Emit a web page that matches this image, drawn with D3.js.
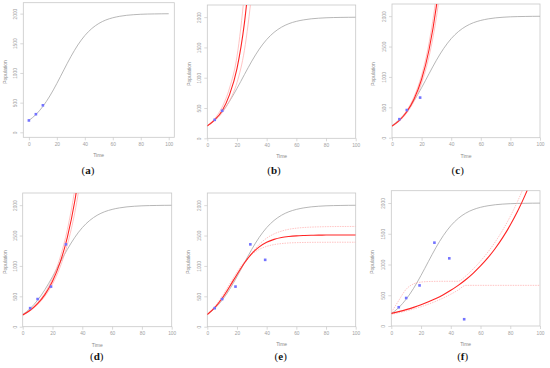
<!DOCTYPE html>
<html>
<head>
<meta charset="utf-8">
<script src="https://cdn.jsdelivr.net/npm/d3@7"></script>
<style>
  body { margin: 0; background: #fff; }
  svg { display: block; }
</style>
</head>
<body>
<svg id="chart"></svg>
<script>
(function() {

const W = 550, H = 368;

// time grid used for the model curves (step 5)
const timeGrid = d3.range(0, 101, 5);

// grey reference logistic curve
const grayCurve = [200, 299, 436, 613, 823, 1051, 1274, 1471, 1630, 1749, 1834,
  1892, 1930, 1955, 1972, 1982, 1989, 1993, 1995, 1997, 1998];

// observed points (blue)
const obsTime = [0, 5, 10, 19, 29, 39, 49];
const obsPop  = [200, 305, 455, 660, 1355, 1100, 110];

// fitted curves (red) and their bands (pink)
const fitB    = [205, 305, 455, 720, 1150, 1900, 3100];
const bandBhi = [205, 325, 515, 830, 1350, 2400, 4000];
const bandBlo = [200, 290, 420, 620, 920, 1450, 2400, 3600];

const fitC    = [190, 285, 428, 642, 962, 1443, 2164, 3245];
const bandClo = [185, 274, 408, 605, 898, 1334, 1980, 2938];
const bandChi = [195, 295, 448, 679, 1028, 1557, 2358, 3572];

const fitD    = [192, 270, 379, 532, 748, 1050, 1475, 2072, 2911];
const bandDlo = [188, 261, 363, 505, 701, 975, 1354, 1882, 2615];
const bandDhi = [196, 278, 395, 560, 795, 1128, 1600, 2269, 3219];

const fitE    = [200, 314, 468, 658, 860, 1049, 1202, 1314, 1389, 1437, 1467,
  1484, 1495, 1501, 1505, 1507, 1508, 1509, 1510, 1510, 1510];
const bandEhi = [200, 306, 450, 630, 833, 1035, 1212, 1354, 1457, 1527, 1573,
  1603, 1621, 1632, 1639, 1643, 1646, 1648, 1649, 1649, 1650];
const bandElo = [205, 331, 501, 701, 899, 1067, 1190, 1272, 1322, 1351, 1368,
  1378, 1383, 1386, 1388, 1389, 1389, 1390, 1390, 1390, 1390];

const fitF    = [205, 234, 266, 303, 345, 393, 447, 509, 580, 661, 752,
  857, 976, 1111, 1265, 1441, 1641, 1869, 2128, 2424, 2760];
const bandFhi = [218, 414, 598, 685, 714, 723, 726, 727, 727, 727, 812,
  926, 1056, 1203, 1371, 1563, 1782, 2031, 2315, 2639, 3008];
const bandFlo = [190, 215, 244, 277, 313, 355, 402, 456, 517, 585, 661,
  661, 661, 661, 661, 661, 661, 661, 661, 661, 661];

const xTicks = [0, 20, 40, 60, 80, 100];
const yTicks = [0, 500, 1000, 1500, 2000];
const letters = ["a", "b", "c", "d", "e", "f"];

// layout of each panel: box in pixels, caption + axis title positions
const panels = [
  { box: [23.3, 174.3, 2.7, 137.3], pad: true, nObs: [0, 3], fit: null,
    cap: [88, 174], tx: [98.7, 155.7], ty: [5.7, 72] },
  { box: [207.3, 355.7, 5, 138.3], nObs: [1, 3], fit: fitB, hi: bandBhi, lo: bandBlo,
    cap: [274, 174], tx: [281.7, 156.5], ty: [189.5, 74] },
  { box: [392, 540, 4, 137.7], nObs: [1, 4], fit: fitC, hi: bandChi, lo: bandClo,
    cap: [457.7, 174], tx: [466, 156], ty: [373.3, 74] },
  { box: [22.7, 171.7, 193, 326.7], nObs: [1, 5], fit: fitD, hi: bandDhi, lo: bandDlo,
    cap: [96.7, 360], tx: [97.3, 345.5], ty: [5, 262] },
  { box: [207.3, 355.7, 193, 326.7], nObs: [1, 6], fit: fitE, hi: bandEhi, lo: bandElo,
    dotted: true, cap: [280.7, 360], tx: [281.7, 344.3], ty: [188.7, 262] },
  { box: [391.3, 540, 190.7, 326], nObs: [1, 7], fit: fitF, hi: bandFhi, lo: bandFlo,
    dotted: true, cap: [462.7, 360], tx: [465.7, 344.3], ty: [372.7, 262] }
];

const svg = d3.select("#chart")
    .attr("width", W)
    .attr("height", H);

const defs = svg.append("defs");

panels.forEach((p, i) => {
  const [x0, x1, y0, y1] = p.box;

  const x = d3.scaleLinear().range([x0, x1]);
  const y = d3.scaleLinear().range([y1, y0]);
  if (p.pad) {
    // R style 4% padding
    x.domain([-4, 104]);
    y.domain([-84, 2184]);
  } else {
    x.domain([0, 100]);
    y.domain([0, 2200]);
  }

  defs.append("clipPath")
      .attr("id", "clip" + i)
    .append("rect")
      .attr("x", x0).attr("y", y0)
      .attr("width", x1 - x0).attr("height", y1 - y0);

  const g = svg.append("g");

  // axes
  const xAxis = g.append("g")
      .attr("transform", `translate(0,${y1})`)
      .call(d3.axisBottom(x).tickValues(xTicks).tickSize(3).tickSizeOuter(0));
  const yAxis = g.append("g")
      .attr("transform", `translate(${x0},0)`)
      .call(d3.axisLeft(y).tickValues(yTicks).tickSize(3).tickSizeOuter(0));

  [xAxis, yAxis].forEach(a => {
    a.select(".domain").remove();
    a.selectAll("line").attr("stroke", "#c8c8c8").attr("stroke-width", 0.7);
    a.selectAll("text").remove();
  });

  xAxis.selectAll(".tick").append("text")
      .attr("y", 7)
      .attr("dy", "0.35em")
      .attr("text-anchor", "middle")
      .attr("fill", "#a0a0a0")
      .style("font", "4.8px 'Liberation Sans', Arial, sans-serif")
      .text(d => d);

  yAxis.selectAll(".tick").append("text")
      .attr("transform", "translate(-7.5,0) rotate(-90)")
      .attr("dy", "0.35em")
      .attr("text-anchor", "middle")
      .attr("fill", "#a0a0a0")
      .style("font", "4.8px 'Liberation Sans', Arial, sans-serif")
      .text(d => d);

  // box
  g.append("rect")
      .attr("x", x0).attr("y", y0)
      .attr("width", x1 - x0).attr("height", y1 - y0)
      .attr("fill", "none")
      .attr("stroke", "#c8c8c8")
      .attr("stroke-width", 0.8);

  // axis titles
  g.append("text")
      .attr("x", p.tx[0]).attr("y", p.tx[1])
      .attr("dy", "0.35em")
      .attr("text-anchor", "middle")
      .attr("fill", "#8a8a8a")
      .style("font", "5px 'Liberation Sans', Arial, sans-serif")
      .text("Time");

  g.append("text")
      .attr("transform", `translate(${p.ty[0]},${p.ty[1]}) rotate(-90)`)
      .attr("dy", "0.35em")
      .attr("text-anchor", "middle")
      .attr("fill", "#8a8a8a")
      .style("font", "5px 'Liberation Sans', Arial, sans-serif")
      .text("Population");

  // curves
  const plot = g.append("g").attr("clip-path", `url(#clip${i})`);
  const line = d3.line()
      .x((d, k) => x(timeGrid[k]))
      .y(d => y(d))
      .curve(d3.curveMonotoneX);

  plot.append("path")
      .attr("d", line(grayCurve))
      .attr("fill", "none")
      .attr("stroke", "#a4a4a4")
      .attr("stroke-width", 0.8);

  if (p.fit) {
    [p.hi, p.lo].forEach(b => {
      plot.append("path")
          .attr("d", line(b))
          .attr("fill", "none")
          .attr("stroke", "#ffabab")
          .attr("stroke-width", 0.7)
          .attr("stroke-dasharray", p.dotted ? "1.5,1" : null);
    });
    plot.append("path")
        .attr("d", line(p.fit))
        .attr("fill", "none")
        .attr("stroke", "#ff2424")
        .attr("stroke-width", 1.1);
  }

  // observations
  const idx = d3.range(p.nObs[0], p.nObs[1]);
  plot.selectAll(".obs")
      .data(idx)
      .enter().append("rect")
      .attr("class", "obs")
      .attr("x", k => x(obsTime[k]) - 1.3)
      .attr("y", k => y(obsPop[k]) - 1.3)
      .attr("width", 2.6)
      .attr("height", 2.6)
      .attr("fill", "#7373ff");

  // caption
  const cap = g.append("text")
      .attr("x", p.cap[0]).attr("y", p.cap[1])
      .attr("text-anchor", "middle")
      .attr("fill", "#111")
      .style("font", "11px 'Liberation Serif', 'DejaVu Serif', serif");
  cap.append("tspan").text("(");
  cap.append("tspan").attr("font-weight", "bold").text(letters[i]);
  cap.append("tspan").text(")");
});

})();
</script>
</body>
</html>
